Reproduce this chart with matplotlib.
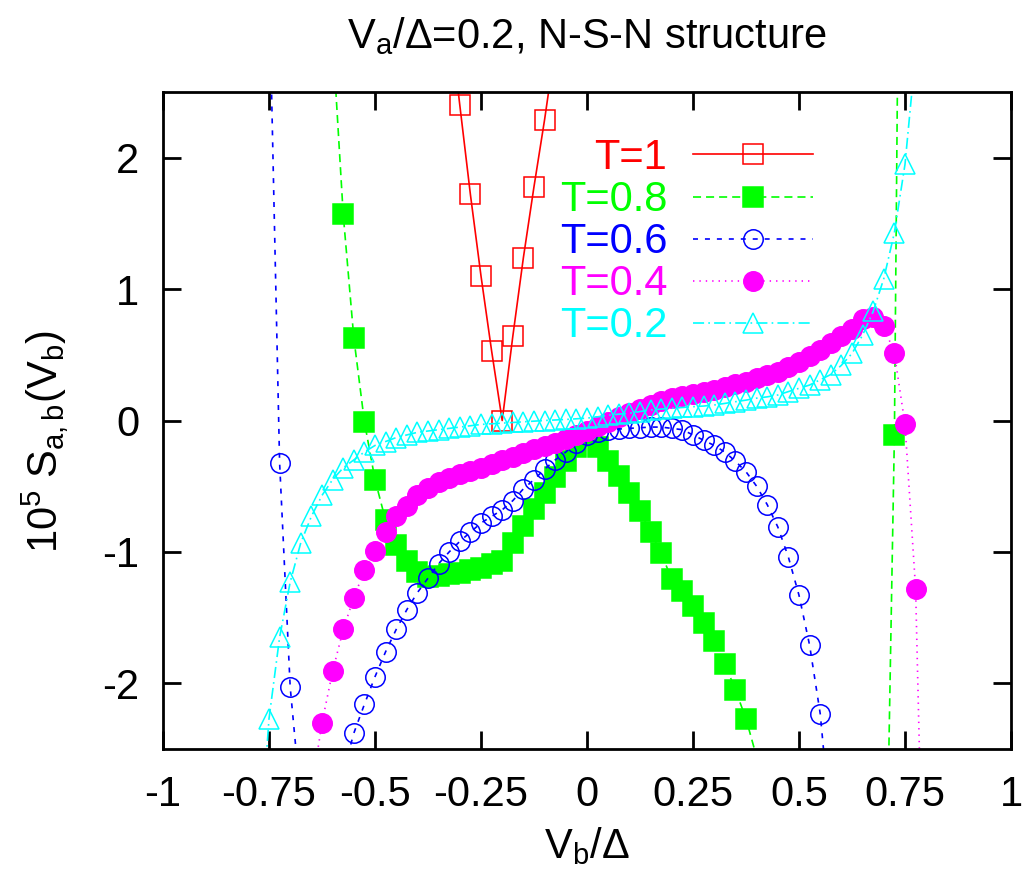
#!/usr/bin/env python3

import matplotlib
matplotlib.use("Agg")
import matplotlib.pyplot as plt
from matplotlib.lines import Line2D

# Values (V_b/Delta, 10^5 S_ab)
X_T10 = [-0.325, -0.3, -0.275, -0.25, -0.225, -0.2, -0.175, -0.15, -0.125, -0.1, -0.075]
Y_T10 = [3.10, 2.40, 1.72, 1.10, 0.53, 0.00, 0.64, 1.24, 1.78, 2.29, 2.85]

X_T08 = [-0.6, -0.575, -0.55, -0.525, -0.5, -0.475, -0.45, -0.425, -0.4, -0.375,
         -0.35, -0.325, -0.3, -0.275, -0.25, -0.225, -0.2, -0.175, -0.15, -0.125,
         -0.1, -0.075, -0.05, -0.025, 0.0, 0.025, 0.05, 0.075, 0.1, 0.125,
         0.15, 0.175, 0.2, 0.225, 0.25, 0.275, 0.3, 0.325, 0.35, 0.375,
         0.4, 0.425, 0.7, 0.725, 0.75]
Y_T08 = [2.92, 1.57, 0.63, -0.01, -0.45, -0.76, -0.95, -1.07, -1.15, -1.19,
         -1.18, -1.17, -1.16, -1.14, -1.12, -1.09, -1.07, -0.93, -0.80, -0.67,
         -0.55, -0.43, -0.31, -0.20, -0.12, -0.20, -0.31, -0.42, -0.55, -0.69,
         -0.85, -1.01, -1.21, -1.30, -1.41, -1.54, -1.68, -1.85, -2.05, -2.27,
         -2.56, -2.90, -4.70, -0.11, 9.20]

X_T06 = [-0.75, -0.725, -0.7, -0.675,
         -0.575, -0.55, -0.525, -0.5, -0.475, -0.45, -0.425, -0.4, -0.375, -0.35,
         -0.325, -0.3, -0.275, -0.25, -0.225, -0.2, -0.175, -0.15, -0.125, -0.1,
         -0.075, -0.05, -0.025, 0.0, 0.025, 0.05, 0.075, 0.1, 0.125, 0.15,
         0.175, 0.2, 0.225, 0.25, 0.275, 0.3, 0.325, 0.35, 0.375, 0.4,
         0.425, 0.45, 0.475, 0.5, 0.525, 0.55, 0.575]
Y_T06 = [3.40, -0.32, -2.03, -2.90,
         -2.68, -2.38, -2.16, -1.95, -1.76, -1.59, -1.44, -1.31, -1.20, -1.09,
         -1.00, -0.92, -0.85, -0.78, -0.73, -0.68, -0.61, -0.52, -0.45, -0.37,
         -0.30, -0.24, -0.17, -0.11, -0.085, -0.075, -0.065, -0.06, -0.055, -0.05,
         -0.05, -0.06, -0.07, -0.11, -0.15, -0.19, -0.24, -0.31, -0.39, -0.50,
         -0.64, -0.81, -1.04, -1.33, -1.71, -2.23, -3.10]

X_T04 = [-0.65, -0.625, -0.6, -0.575, -0.55, -0.525, -0.5, -0.475, -0.45, -0.425,
         -0.4, -0.375, -0.35, -0.325, -0.3, -0.275, -0.25, -0.225, -0.2, -0.175,
         -0.15, -0.125, -0.1, -0.075, -0.05, -0.025, 0.0, 0.025, 0.05, 0.075,
         0.1, 0.125, 0.15, 0.175, 0.2, 0.225, 0.25, 0.275, 0.3, 0.325,
         0.35, 0.375, 0.4, 0.425, 0.45, 0.475, 0.5, 0.525, 0.55, 0.575,
         0.6, 0.625, 0.65, 0.675, 0.7, 0.725, 0.75, 0.775, 0.8]
Y_T04 = [-2.82, -2.30, -1.91, -1.59, -1.35, -1.14, -0.99, -0.85, -0.73, -0.65,
         -0.57, -0.51, -0.47, -0.44, -0.41, -0.385, -0.36, -0.33, -0.30, -0.275,
         -0.25, -0.22, -0.195, -0.17, -0.14, -0.11, -0.08, -0.045, -0.01, 0.025,
         0.06, 0.09, 0.12, 0.15, 0.17, 0.19, 0.205, 0.22, 0.235, 0.255,
         0.275, 0.295, 0.32, 0.345, 0.37, 0.405, 0.445, 0.49, 0.54, 0.59,
         0.645, 0.70, 0.77, 0.79, 0.72, 0.51, -0.03, -1.28, -4.70]

X_T02 = [-0.775, -0.75, -0.725, -0.7, -0.675, -0.65, -0.625, -0.6, -0.575, -0.55,
         -0.525, -0.5, -0.475, -0.45, -0.425, -0.4, -0.375, -0.35, -0.325, -0.3,
         -0.275, -0.25, -0.225, -0.2, -0.175, -0.15, -0.125, -0.1, -0.075, -0.05,
         -0.025, 0.0, 0.025, 0.05, 0.075, 0.1, 0.125, 0.15, 0.175, 0.2,
         0.225, 0.25, 0.275, 0.3, 0.325, 0.35, 0.375, 0.4, 0.425, 0.45,
         0.475, 0.5, 0.525, 0.55, 0.575, 0.6, 0.625, 0.65, 0.675, 0.7,
         0.725, 0.75, 0.775]
Y_T02 = [-3.40, -2.27, -1.65, -1.23, -0.93, -0.73, -0.57, -0.45, -0.36, -0.30,
         -0.24, -0.19, -0.16, -0.13, -0.11, -0.09, -0.08, -0.07, -0.06, -0.05,
         -0.04, -0.03, -0.025, -0.02, -0.015, -0.01, -0.005, 0.0, 0.004, 0.008,
         0.013, 0.018, 0.028, 0.04, 0.048, 0.055, 0.068, 0.08, 0.087, 0.093,
         0.099, 0.105, 0.11, 0.118, 0.13, 0.143, 0.155, 0.17, 0.18, 0.194,
         0.22, 0.245, 0.27, 0.31, 0.35, 0.42, 0.51, 0.65, 0.83, 1.08,
         1.43, 1.95, 2.80]

LABELS = ["T=1", "T=0.8", "T=0.6", "T=0.4", "T=0.2"]
COLORS = ["#ff0000", "#00ff00", "#0000ff", "#ff00ff", "#00ffff"]

X_TICKS = [-1, -0.75, -0.5, -0.25, 0, 0.25, 0.5, 0.75, 1]
X_TICK_LABELS = ["-1", "-0.75", "-0.5", "-0.25", "0", "0.25", "0.5", "0.75", "1"]
Y_TICKS = [-2, -1, 0, 1, 2]
Y_TICK_LABELS = ["-2", "-1", "0", "1", "2"]

YMIN, YMAX = -2.5, 2.5

# (marker, filled, linestyle) per curve, gnuplot-like
STYLES = [
    ("s", False, "-"),
    ("s", True, (0, (5.8, 3.6))),
    ("o", False, (0, (3.6, 5.0))),
    ("o", True, (0, (1.0, 3.6))),
    ("^", False, (0, (8.0, 3.0, 1.2, 3.0))),
]


def visible(y):
    # gnuplot does not draw a point symbol outside the y range
    return [i for i, v in enumerate(y) if YMIN <= v <= YMAX]


def main():
    plt.rcParams["font.family"] = ["Liberation Sans", "DejaVu Sans"]
    plt.rcParams["mathtext.fontset"] = "custom"
    plt.rcParams["mathtext.rm"] = "Liberation Sans"
    plt.rcParams["mathtext.it"] = "Liberation Sans:italic"
    plt.rcParams["lines.scale_dashes"] = False
    plt.rcParams["axes.unicode_minus"] = False

    fs = 30
    fig = plt.figure(figsize=(10.24, 8.75), dpi=100)
    ax = fig.add_axes([163 / 1024, 1 - 749 / 875, 848 / 1024, 657 / 875])

    series = [(X_T10, Y_T10), (X_T08, Y_T08), (X_T06, Y_T06),
              (X_T04, Y_T04), (X_T02, Y_T02)]
    handles = []
    for (x, y), color, (mk, filled, ls) in zip(series, COLORS, STYLES):
        face = color if filled else "none"
        style = dict(color=color, lw=1.2, linestyle=ls, marker=mk, markersize=14,
                     markerfacecolor=face, markeredgecolor=color, markeredgewidth=1.1)
        ax.plot(x, y, markevery=visible(y), **style)
        handles.append(Line2D([], [], **style))

    ax.set_xlim(-1, 1)
    ax.set_ylim(YMIN, YMAX)
    ax.set_xticks(X_TICKS)
    ax.set_xticklabels(X_TICK_LABELS)
    ax.set_yticks(Y_TICKS)
    ax.set_yticklabels(Y_TICK_LABELS)
    ax.tick_params(direction="in", length=13, width=2, labelsize=fs,
                   top=True, right=True)
    ax.tick_params(axis="x", pad=19)
    ax.tick_params(axis="y", pad=17)
    for sp in ax.spines.values():
        sp.set_linewidth(2)

    leg = ax.legend(handles, LABELS, loc="upper right",
                    bbox_to_anchor=((813 - 163) / 848, (749 - 138) / 657),
                    frameon=False, fontsize=fs, markerfirst=False, numpoints=1,
                    borderpad=0, borderaxespad=0, handlelength=2.88,
                    handletextpad=0.62, labelspacing=0.05)
    for txt, color in zip(leg.get_texts(), COLORS):
        txt.set_color(color)

    fig.text(587 / 1024, 1 - 48 / 875, r"V$_{\rm a}$/Δ=0.2, N-S-N structure",
             fontsize=fs, ha="center", va="baseline")
    fig.text(587 / 1024, 1 - 858 / 875, r"V$_{\rm b}$/Δ",
             fontsize=fs, ha="center", va="baseline")
    fig.text(45 / 1024, 1 - 442 / 875, r"10$^{5}$ S$_{\rm a,b}$(V$_{\rm b}$)",
             fontsize=fs, ha="center", va="center", rotation=90)

    fig.savefig("out.png", dpi=100)


if __name__ == "__main__":
    main()
